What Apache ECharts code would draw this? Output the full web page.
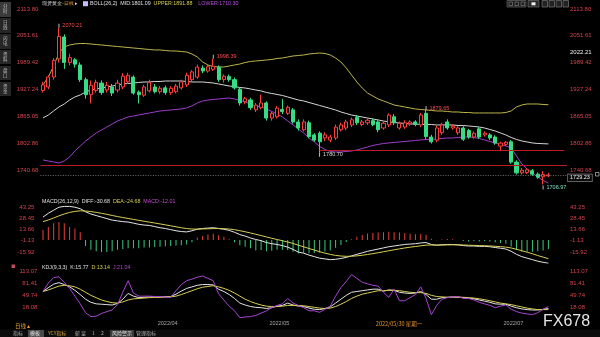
<!DOCTYPE html>
<html><head><meta charset="utf-8">
<script src="https://cdn.jsdelivr.net/npm/echarts@6/dist/echarts.min.js"></script>
<style>html,body{margin:0;padding:0;background:#000;}#c{width:600px;height:337px;}</style>
</head><body><div id="c"></div>
<script>
// ---- categories (trading days) ----
const marDays=[3,4,7,8,9,10,11,14,15,16,17,18,21,22,23,24,25,28,29,30,31];
const aprDays=[1,4,5,6,7,8,11,12,13,14,15,18,19,20,21,22,25,26,27,28,29];
const mayDays=[2,3,4,5,6,9,10,11,12,13,16,17,18,19,20,23,24,25,26,27,30,31];
const junDays=[1,2,3,6,7,8,9,10,13,14,15,16,17,20,21,22,23,24,27,28,29,30];
const julDays=[1,4,5,6,7,8,11,12,13,14];
const padCats=[' ','  ','   '];
const dateTicks={'2022/04/01':'2022/04','2022/05/02':'2022/05','2022/05/30':'2022/05/30 星期一','2022/07/01':'2022/07'};

// ---- price (OHLC) ----
const open=[1925,1933,1956,1998,2049,1990,1996,1984,1950,1915,1925,1942,1926,1933,1926,1933,1945,1956,1921,1914,1924,1933,1922,1931,1920,1922,1931,1938,1950,1956,1977,1970,1974,1979,1950,1957,1950,1928,1899,1903,1880,1885,1896,1861,1864,1881,1872,1880,1852,1834,1850,1822,1826,1815,1810,1815,1834,1838,1845,1863,1846,1850,1855,1852,1838,1845,1864,1838,1840,1848,1852,1845,1872,1817,1810,1827,1852,1838,1827,1838,1832,1817,1836,1822,1822,1817,1796,1800,1806,1759,1734,1735,1739,1731,1725,1727];
const close=[1938,1956,1995,2050,1990,2001,1986,1950,1915,1937,1944,1920,1937,1919,1942,1958,1960,1919,1915,1933,1944,1922,1930,1920,1930,1935,1945,1960,1968,1979,1970,1980,1981,1950,1958,1950,1931,1896,1906,1885,1891,1896,1861,1872,1884,1876,1886,1852,1838,1852,1818,1810,1806,1822,1817,1840,1845,1852,1857,1850,1852,1856,1846,1834,1849,1868,1850,1849,1850,1852,1846,1868,1818,1806,1838,1845,1838,1842,1838,1812,1817,1826,1817,1826,1815,1803,1803,1805,1759,1734,1740,1741,1731,1724,1730,1729.23];
const low=[1920,1928,1950,1990,1975,1983,1978,1945,1906,1895,1920,1915,1920,1912,1920,1928,1940,1915,1895,1910,1920,1918,1917,1915,1915,1918,1927,1933,1945,1952,1965,1966,1970,1945,1943,1945,1927,1890,1893,1880,1875,1881,1855,1855,1860,1870,1868,1848,1832,1830,1814,1806,1780.70,1808,1805,1810,1830,1833,1840,1845,1842,1845,1842,1828,1834,1840,1845,1834,1836,1843,1842,1840,1812,1802,1805,1822,1834,1834,1822,1808,1813,1813,1813,1818,1810,1799,1784,1796,1755,1730,1730,1731,1727,1720,1706.97,1724];
const high=[1945,1960,2000,2070.21,2055,2010,2000,1990,1955,1948,1950,1948,1945,1940,1950,1965,1966,1960,1925,1938,1950,1940,1935,1936,1935,1940,1950,1966,1972,1985,1983,1986,1998.39,1983,1962,1962,1955,1932,1910,1908,1896,1915,1900,1876,1889,1905,1890,1884,1858,1858,1855,1826,1830,1828,1822,1846,1850,1857,1862,1868,1857,1860,1860,1856,1854,1872,1870,1853,1856,1856,1856,1873,1879.65,1822,1843,1850,1858,1846,1842,1842,1836,1830,1840,1830,1826,1821,1806,1808,1810,1763,1745,1745,1743,1735,1738,1734];

// ---- BOLL(26,2) ----
const bollUpper=[1937.7,1956.2,1981.7,2011.8,2025.7,2030.4,2032.7,2033.8,2033.8,2032.7,2031.5,2030.4,2029.2,2028.0,2026.9,2025.7,2024.6,2023.4,2022.3,2021.1,2019.9,2018.8,2018.8,2017.6,2016.5,2016.5,2015.3,2014.1,2009.5,2002.6,1991.0,1984.0,1980.5,1979.4,1979.4,1981.7,1984.0,1986.3,1989.8,1992.1,1993.3,1994.4,1995.6,1996.8,1999.1,2000.2,2002.6,2004.9,2006.0,2007.2,2009.5,2010.7,2011.8,2010.7,2007.2,2000.2,1991.0,1977.1,1960.8,1944.6,1930.7,1919.1,1912.2,1905.2,1900.6,1896.0,1891.3,1889.0,1886.7,1884.4,1882.0,1880.9,1879.7,1878.6,1877.4,1877.4,1876.3,1875.1,1875.1,1873.9,1873.9,1872.8,1872.8,1872.8,1872.8,1872.8,1872.8,1873.9,1877.4,1886.7,1891.3,1893.6,1893.6,1893.6,1892.5,1891.88];
const bollMid=[1861.2,1868.1,1877.4,1886.7,1893.6,1902.9,1909.9,1914.5,1921.4,1926.1,1928.4,1930.7,1933.0,1935.3,1937.7,1940.0,1941.1,1942.3,1943.5,1944.6,1944.6,1945.8,1945.8,1946.9,1946.9,1946.9,1946.9,1945.8,1944.6,1944.6,1944.6,1943.5,1942.3,1940.0,1937.7,1935.3,1934.2,1931.9,1930.7,1928.4,1926.1,1923.8,1920.3,1918.0,1915.7,1913.3,1909.9,1906.4,1902.9,1900.6,1897.1,1893.6,1890.2,1886.7,1883.2,1879.7,1875.1,1871.6,1868.1,1865.8,1863.5,1861.2,1858.9,1856.6,1854.2,1851.9,1850.8,1849.6,1848.4,1847.3,1847.3,1846.1,1846.1,1846.1,1845.0,1845.0,1845.0,1845.0,1843.8,1843.8,1842.6,1841.5,1840.3,1838.0,1834.5,1831.1,1826.4,1821.8,1816.0,1811.4,1807.9,1805.6,1803.3,1802.1,1801.6,1801.09];
const bollLower=[1763.9,1761.5,1759.2,1756.9,1761.5,1770.8,1784.7,1796.3,1807.9,1817.2,1826.4,1833.4,1840.3,1847.3,1854.2,1858.9,1863.5,1865.8,1868.1,1870.5,1872.8,1875.1,1877.4,1878.6,1879.7,1880.9,1882.0,1884.4,1889.0,1896.0,1900.6,1902.9,1904.1,1905.2,1906.4,1907.5,1905.2,1901.7,1898.3,1893.6,1889.0,1886.7,1882.0,1876.3,1870.5,1863.5,1854.2,1845.0,1835.7,1826.4,1814.8,1805.6,1795.1,1788.2,1783.6,1782.4,1782.4,1783.6,1784.7,1787.0,1790.5,1794.0,1797.5,1799.8,1802.1,1803.3,1804.4,1805.6,1806.7,1807.9,1809.0,1810.2,1811.4,1811.4,1812.5,1813.7,1814.8,1814.8,1816.0,1817.2,1817.2,1816.0,1813.7,1810.2,1806.7,1803.3,1799.8,1796.3,1791.7,1773.1,1754.6,1743.0,1733.7,1724.5,1716.3,1710.30];

// ---- MACD(26,12,9) ----
const macdDiff=[30,35,39,43,44,44,43,41,37,34,32,30,28,26,25,24,23.5,22,20.5,19.5,19,17.5,16,15,13.5,12,11,10.5,12,14,15,15.5,16,15,14,12.5,10,7,5,2.5,0.5,-1,-3.5,-5,-6,-7.5,-9.5,-12.5,-16,-17.5,-20,-22,-24,-25,-26,-25.5,-24.5,-23,-21,-19,-17,-15,-13.5,-12,-10.5,-9,-8,-7,-6,-5.5,-5,-4,-3.5,-6,-7,-6.5,-6,-6,-6.5,-7.5,-8,-8,-8.5,-8.5,-9,-10,-11,-12,-15,-19,-22,-24,-26,-28,-29.5,-30.68];
const macdDea=[24,26.2,28.8,31.6,34.1,36.1,37.5,38.2,38.0,37.2,36.2,35.0,33.6,32.1,30.7,29.4,28.2,27.0,25.7,24.5,23.4,22.2,21.0,19.8,18.5,17.2,16.0,14.9,14.3,14.2,14.4,14.6,14.9,14.9,14.7,14.3,13.4,12.1,10.7,9.1,7.4,5.7,3.9,2.1,0.5,-1.1,-2.8,-4.7,-7.0,-9.1,-11.3,-13.4,-15.5,-17.4,-19.1,-20.4,-21.2,-21.6,-21.5,-21.0,-20.2,-19.2,-18.1,-16.9,-15.6,-14.3,-13.0,-11.8,-10.6,-9.6,-8.7,-7.8,-6.9,-6.7,-6.8,-6.7,-6.6,-6.5,-6.5,-6.7,-7.0,-7.2,-7.5,-7.7,-8.0,-8.4,-8.9,-9.5,-10.6,-12.3,-14.2,-16.2,-18.2,-20.6,-22.6,-24.68];
const macdHist=[13,17,22,23.6,22,17,15,10,-8,-13,-15,-16,-16,-15,-13,-12,-11,-11,-11,-10,-10,-9.5,-9,-8.5,-8,-7.5,-7,-6,-3,3,5,7,8,6,4,1,-3,-7,-9,-11,-13.8,-13.4,-14.8,-14.2,-13,-12.8,-13.4,-15.6,-18,-16.8,-17.4,-17.2,-17,-15.2,-13.8,-10.2,-6.6,-2.8,1,4,6.4,8.4,9.2,9.8,10.2,10.6,10,9.6,9.2,8.2,7.4,7.6,6.8,1.4,-0.4,0.4,1.2,1,0,-1.6,-2,-1.6,-2,-1.6,-2,-3.2,-4.2,-5,-8.8,-13.4,-15.6,-15.6,-15.6,-14.8,-13.8,-12.01];

// ---- KDJ(9,3,3) ----
const kdjK=[60,70,79,83,78,72,63,52,40,32,28,27,26,25,29,40,55,48,44,45,46,46,46,46,47,53,61,68,72,76,78,78,77,66,60,52,42,30,25,21,19,18,16,18,22,24,30,25,22,21,17,14,13,16,20,30,40,50,58,60,62,64,66,66,61,64,63,58,56,55,56,60,52,40,40,44,45,46,46,44,43,41,38,35,32,28,27,27,22,18,15,13,12,12,14,15.77];
const kdjD=[60,64,69,74,76,75,72,66,58,50,44,38,34,31,30,33,38,41,42,43,44,45,45,46,46,48,52,57,62,67,71,73,75,72,68,63,56,48,40,34,29,25,22,21,21,22,24,24,24,23,21,19,17,16,17,21,27,34,42,48,53,56,59,62,62,63,63,62,60,58,57,57,55,50,47,46,45,45,45,45,44,43,41,39,36,33,30,28,26,23,20,17,15,13,13,13.14];
const kdjJ=[60,82,96,98,84,68,48,28,5,-5,-4,3,8,12,26,58,88,56,48,48,48,47,47,45,45,62,78,88,92,97,100,94,88,54,38,22,10,-8,-6,-5,-2,4,10,18,24,28,42,30,24,18,10,10,6,14,22,48,70,86,104,94,84,80,76,74,58,45,66,36,36,44,52,72,42,0,24,40,44,46,47,42,42,38,32,28,24,18,22,25,14,8,4,2,0,5,14,21.04];

// ---- axis tick labels ----
const priceTicks=['1740.68','1802.86','1865.05','1927.24','1989.42','2051.61','2113.80'];
const macdTicks=['-15.92','-1.13','13.66','28.45','43.25'];
const kdjTicks=['18.08','49.74','81.41','113.07'];

// ---------------------------------------------------------------
const FONT='"Liberation Sans","Noto Sans CJK SC",sans-serif';
const CJK='"Noto Sans CJK SC","Liberation Sans",sans-serif';
const RED='#ff3d3d', GREEN='#38db86', AX='#d3434d';
const cats=[];
[[3,marDays],[4,aprDays],[5,mayDays],[6,junDays],[7,julDays]].forEach(([m,ds])=>ds.forEach(d=>cats.push('2022/'+String(m).padStart(2,'0')+'/'+String(d).padStart(2,'0'))));
const xCats=cats.concat(padCats);
const ohlc=open.map((o,i)=>[o,close[i],low[i],high[i]]);

function tickFmt(list,tol){return v=>{const h=list.find(s=>Math.abs(parseFloat(s)-v)<tol);return h||'';};}
function yax(g,pos,min,max,interval,list,tol,margin){
  return {type:'value',gridIndex:g,position:pos,min:min,max:max,interval:interval,
    splitLine:{show:false},axisLine:{show:false},axisTick:{show:false},
    axisLabel:{color:AX,fontSize:6,margin:margin,fontFamily:FONT,formatter:tickFmt(list,tol)}};
}
const G={left:40.34,width:526.68};
const line=(name,x,y,data,color)=>({name,type:'line',xAxisIndex:x,yAxisIndex:y,data,symbol:'none',silent:true,
  lineStyle:{color,width:1},itemStyle:{color},z:3});

const hiLabel=(idx,val,txt,color,off)=>({coord:[idx,val],value:val,symbol:'rect',symbolSize:[0.8,4],symbolOffset:[0,off],
  itemStyle:{color:'#e8e8e8'},
  label:{show:true,position:'right',distance:3,formatter:txt,color:color,fontSize:5.5,fontFamily:FONT}});

const graphic=[];
// left toolbar
[[2,17,'分时'],[18,33,'日线'],[34,49,'闪电'],[50,64,'资料'],[66,80,'盘口'],[82,96,'资金']].forEach(([a,b,t],k)=>{
  graphic.push({type:'rect',shape:{x:0,y:a,width:11,height:b-a},style:{fill:k===0?'#3a3a3a':'#262626'},silent:true});
  graphic.push({type:'text',left:3,top:a+2,style:{text:t.split('').join('\n'),fill:'#bdbdbd',fontSize:4.5,fontFamily:CJK,lineHeight:5},silent:true});
});
// top header
graphic.push({type:'text',left:42,top:1,silent:true,style:{fontSize:5.3,fontFamily:CJK,
  text:'{w|现货黄金}{o|-日线}{w| ▸}',rich:{w:{fill:'#d8d8d8',fontSize:5.3},o:{fill:'#e6a03a',fontSize:5.3}}}});
graphic.push({type:'rect',shape:{x:83,y:1.2,width:5,height:5},style:{fill:'#c9b9ff'},silent:true});
graphic.push({type:'text',left:90,top:1.2,silent:true,style:{fontSize:5.3,fontFamily:FONT,
  text:'{w|BOLL(26,2)  MID:1801.09}  {y|UPPER:1891.88}    {p|LOWER:1710.30}',
  rich:{w:{fill:'#e0e0e0',fontSize:5.3},y:{fill:'#d8cf52',fontSize:5.3},p:{fill:'#b84fe0',fontSize:5.3}}}});
// top-right toolbar
graphic.push({type:'rect',shape:{x:507,y:0.5,width:19,height:6.5},style:{fill:'#1c1c1c',stroke:'#7a7a7a',lineWidth:0.6},silent:true});
[509,515,521].forEach(x=>graphic.push({type:'rect',shape:{x:x,y:2,width:3.5,height:3.5},style:{fill:'none',stroke:'#9a9a9a',lineWidth:0.5},silent:true}));
graphic.push({type:'rect',shape:{x:528,y:0.5,width:11,height:6.5},style:{fill:'#2a2a2a',stroke:'#7a7a7a',lineWidth:0.6},silent:true});
graphic.push({type:'rect',shape:{x:531.5,y:2.3,width:4,height:3},style:{fill:'#f0f0f0'},silent:true});
[542,549,556,563].forEach(x=>graphic.push({type:'rect',shape:{x:x,y:0.5,width:5.5,height:6.5},style:{fill:'#222',stroke:'#8a8a8a',lineWidth:0.6},silent:true}));
// right white label
graphic.push({type:'text',left:570,top:49.8,silent:true,style:{text:'2022.21',fill:'#f2f2f2',fontSize:6,fontFamily:FONT}});
graphic.push({type:'rect',shape:{x:595.5,y:172.5,width:3.5,height:3.5},style:{fill:'none',stroke:'#dcdcdc',lineWidth:0.6},silent:true});
// MACD header
graphic.push({type:'text',left:42,top:198.8,silent:true,style:{fontSize:5.3,fontFamily:FONT,
  text:'{w|MACD(26,12,9)  DIFF:-30.68}  {y|DEA:-24.68}  {p|MACD:-12.01}',
  rich:{w:{fill:'#e0e0e0',fontSize:5.3},y:{fill:'#d8cf52',fontSize:5.3},p:{fill:'#c84bd8',fontSize:5.3}}}});
// KDJ header
graphic.push({type:'rect',shape:{x:11.5,y:264.5,width:3.5,height:3.5},style:{fill:'#c04858'},silent:true});
graphic.push({type:'text',left:42,top:264.5,silent:true,style:{fontSize:5.3,fontFamily:FONT,
  text:'{w|KDJ(9,3,3)  K:15.77}  {y|D:13.14}  {p|J:21.04}',
  rich:{w:{fill:'#e0e0e0',fontSize:5.3},y:{fill:'#d8cf52',fontSize:5.3},p:{fill:'#b048d0',fontSize:5.3}}}});
// bottom bar
graphic.push({type:'text',left:15,top:323,silent:true,style:{text:'日线 ▴',fill:'#e39a2d',fontSize:5.5,fontFamily:CJK}});
graphic.push({type:'rect',shape:{x:0,y:329.5,width:600,height:7.5},style:{fill:'#0c0c0c'},silent:true});
graphic.push({type:'rect',shape:{x:28,y:330,width:16,height:7},style:{fill:'#4a4a4a'},silent:true});
graphic.push({type:'rect',shape:{x:110,y:330,width:24,height:7},style:{fill:'#3c3c3c'},silent:true});
[[13,'指标','#b0b0b0'],[30,'模板','#e8e8e8'],[48,'YCY指标','#d9a43c'],[75,'斩 皇','#b0b0b0'],[92,'1','#b0b0b0'],[101,'2','#b0b0b0'],[112,'风险警示','#e0e0e0'],[136,'管理指标','#b0b0b0']]
  .forEach(([x,t,c])=>graphic.push({type:'text',left:x,top:330.8,silent:true,style:{text:t,fill:c,fontSize:5,fontFamily:CJK}}));
// watermark
graphic.push({type:'text',left:543,top:314,silent:true,style:{text:'FX678',fill:'#e4e4e4',fontSize:16,fontFamily:FONT}});

const option={
  backgroundColor:'#000',animation:false,textStyle:{fontFamily:FONT},
  grid:[
    {left:G.left,width:G.width,top:3,height:193.8},
    {left:G.left,width:G.width,top:196,height:67.25},
    {left:G.left,width:G.width,top:262,height:57.9}
  ],
  xAxis:[0,1,2].map(g=>({type:'category',gridIndex:g,data:xCats,boundaryGap:true,
    axisLine:{show:false},axisTick:{show:false},splitLine:{show:false},
    axisLabel:g===2?{show:true,interval:0,align:'left',margin:1,padding:[0,0,0,3],color:'#a8a8a8',fontSize:5.5,fontFamily:FONT,
      formatter:v=>dateTicks[v]?(v==='2022/05/30'?'{o|'+dateTicks[v]+'}':dateTicks[v]):'',
      rich:{o:{color:'#e3922e',fontSize:5.5,fontFamily:CJK}}}:{show:false}})),
  yAxis:[
    yax(0,'left',1678.4933,2127.7,62.18667,priceTicks,1,2),
    yax(0,'right',1678.4933,2127.7,62.18667,priceTicks,1,3),
    yax(1,'left',-30.71,57.71,14.79,macdTicks,0.5,6),
    yax(1,'right',-30.71,57.71,14.79,macdTicks,0.5,3),
    yax(2,'left',-13.58,136.4,31.66,kdjTicks,0.5,3),
    yax(2,'right',-13.58,136.4,31.66,kdjTicks,0.5,3)
  ],
  series:[
    {name:'K',type:'candlestick',xAxisIndex:0,yAxisIndex:0,data:ohlc,barWidth:3.6,silent:true,z:4,
      itemStyle:{color:'#000',color0:GREEN,borderColor:RED,borderColor0:GREEN,borderWidth:1},
      markLine:{symbol:['none','none'],silent:true,animation:false,
        data:[
          {yAxis:1752.3,lineStyle:{color:'#b81d28',width:1,type:'solid'},label:{show:false}},
          [{coord:[52,1785.4],lineStyle:{color:'#b81d28',width:1,type:'solid'},label:{show:false}},{coord:[98,1785.4]}],
          {yAxis:1729.23,lineStyle:{color:'#8c8c8c',width:0.8,type:[1,1.5]},
            label:{show:true,position:'end',distance:1,formatter:'1729.23',color:'#f0f0f0',fontSize:5.5,fontFamily:FONT,
              backgroundColor:'#0a0a0a',borderColor:'#9a9a9a',borderWidth:0.6,padding:[1,2,0.5,2],offset:[0,3]}}
        ]},
      markPoint:{silent:true,animation:false,data:[
        hiLabel(3,2070.21,'2070.21','#ff4a4a',-2),
        hiLabel(32,1998.39,'1998.39','#ff4a4a',-2),
        hiLabel(72,1879.65,'1879.65','#ff4a4a',-2),
        hiLabel(52,1780.70,'1780.70','#d6d6d6',2),
        hiLabel(94,1706.97,'1706.97','#7fe3c8',3)
      ]}},
    line('UPPER',0,0,bollUpper,'#bdb54a'),
    line('MID',0,0,bollMid,'#d6d6d6'),
    line('LOWER',0,0,bollLower,'#9d3ecb'),
    {name:'MACD',type:'bar',xAxisIndex:1,yAxisIndex:2,barWidth:1,silent:true,
      data:macdHist.map(v=>({value:v,itemStyle:{color:v>=0?'#e8403f':'#38c97c'}}))},
    line('DIFF',1,2,macdDiff,'#e4e4e4'),
    line('DEA',1,2,macdDea,'#d8cf52'),
    line('Kline',2,4,kdjK,'#e4e4e4'),
    line('Dline',2,4,kdjD,'#d8cf52'),
    line('Jline',2,4,kdjJ,'#a844d2')
  ],
  graphic:graphic
};
const chart=echarts.init(document.getElementById('c'),null,{renderer:'canvas',width:600,height:337});
chart.setOption(option);
</script></body></html>
